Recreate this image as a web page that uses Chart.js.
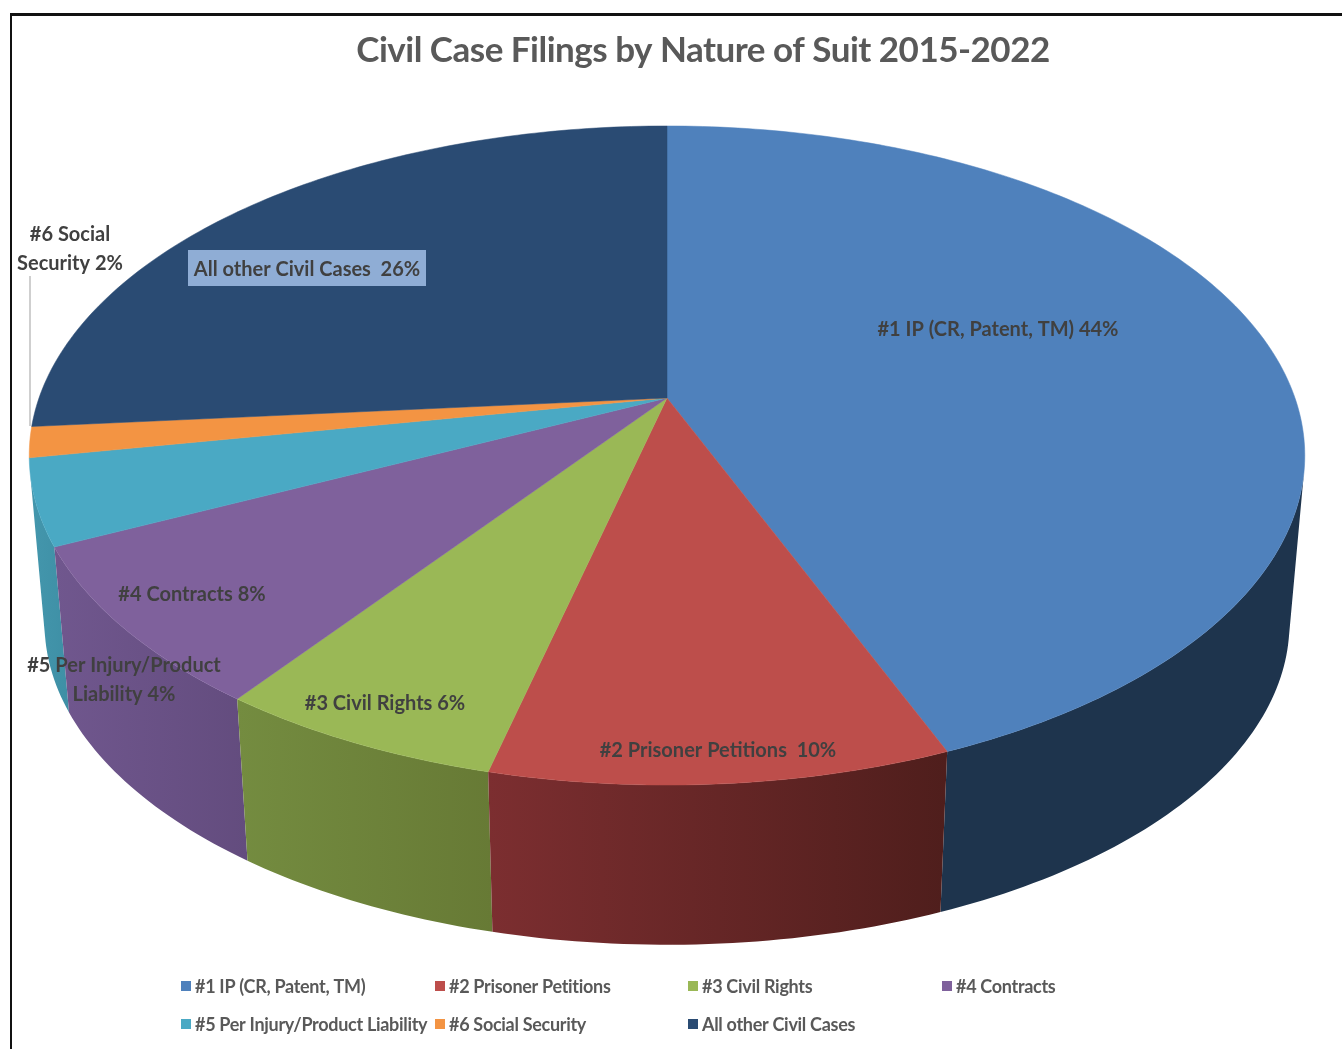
<!DOCTYPE html>
<html>
<head>
<meta charset="utf-8">
<title>Civil Case Filings by Nature of Suit 2015-2022</title>
<script src="https://cdn.jsdelivr.net/npm/chart.js@4"></script>
<style>
    html, body {margin: 0; padding: 0; background: #fff;}
    canvas {display: block;}
</style>
</head>
<body>
<canvas id="pieChart" width="1342" height="1049"></canvas>
<script>
const chartTitle = 'Civil Case Filings by Nature of Suit 2015-2022';
const categories = ['#1 IP (CR, Patent, TM)', '#2 Prisoner Petitions', '#3 Civil Rights', '#4 Contracts',
    '#5 Per Injury/Product Liability', '#6 Social Security', 'All other Civil Cases'];
// share of filings in percent
const shares = [43.9, 9.9, 6.2, 7.9, 4.2, 1.5, 26.4];
const sliceLabels = ['#1 IP (CR, Patent, TM) 44%', '#2 Prisoner Petitions  10%', '#3 Civil Rights 6%', '#4 Contracts 8%',
    '#5 Per Injury/Product\nLiability 4%', '#6 Social\nSecurity 2%', 'All other Civil Cases  26%'];

const topColors = ['#4f81bc', '#bd4e4b', '#9ab856', '#7f619c', '#4aa9c4', '#f39443', '#2a4b73'];
// wall colours, left to right. Excel paints the blue slice's wall in navy
const wallLeft = ['#1e344d', '#7c2e30', '#748c40', '#70578e', '#4497ad', '#c4762f', '#1e344d'];
const wallRight = ['#1e344d', '#4f1e1c', '#677a35', '#634c7e', '#3e8fa5', '#c4762f', '#1e344d'];

// where the slice labels sit on the page (centre of the text block)
const labelX = [998, 718, 385, 192, 124, 70, 307];
const labelY = [330, 751, 704, 595, 680, 249, 270];

const legendX = [181, 435, 688, 942, 181, 435, 688];
const legendY = [986, 986, 986, 986, 1024, 1024, 1024];

// perspective of the tilted disc: front is nearer than back so the apex is above the ellipse centre
const view = {cx: 667, topY: 398, bottomY: 567, a: 628, b: 319.5, k: -0.1745, bottomScale: 0.976};

function project(angle, isBottom) {
    const u = Math.cos(angle);
    const v = Math.sin(angle);
    const w = 1 + view.k * v;
    const s = isBottom ? view.bottomScale : 1;
    return {
        x: view.cx + s * view.a * u / w,
        y: (isBottom ? view.bottomY : view.topY) + s * view.b * v / w
    };
}

function arcPoints(start, end, isBottom) {
    const steps = Math.max(4, Math.ceil((end - start) * 60));
    const points = [];
    for (let i = 0; i <= steps; i++) {
        points.push(project(start + (end - start) * i / steps, isBottom));
    }
    return points;
}

function addPolygon(ctx, points) {
    points.forEach((p, i) => i === 0 ? ctx.moveTo(p.x, p.y) : ctx.lineTo(p.x, p.y));
    ctx.closePath();
}

function signedArea(points) {
    let sum = 0;
    points.forEach((p, i) => {
        const q = points[(i + 1) % points.length];
        sum += p.x * q.y - q.x * p.y;
    });
    return sum;
}

// Chart.js works out the slice angles, this plugin paints them in perspective
const perspectivePie = {
    id: 'perspectivePie',
    beforeDraw(chart) {
        const ctx = chart.ctx;
        ctx.save();
        ctx.fillStyle = '#fff';
        ctx.fillRect(0, 0, chart.width, chart.height);
        ctx.fillStyle = '#111';
        ctx.fillRect(10, 13, chart.width - 10, 3);
        ctx.fillRect(10, 13, 2, chart.height - 13);
        ctx.restore();
        // the title plugin has no spacing option, it picks this up from the context
        ctx.letterSpacing = '-0.5px';
    },
    beforeDatasetsDraw(chart) {
        const ctx = chart.ctx;
        const arcs = chart.getDatasetMeta(0).data;
        ctx.save();

        // walls, back to front. Only the quads facing the viewer go in, all in one path so no seams show
        const order = [6, 5, 4, 3, 0, 2, 1];
        order.forEach(i => {
            const arc = arcs[i];
            const upper = arcPoints(arc.startAngle, arc.endAngle, false);
            const lower = arcPoints(arc.startAngle, arc.endAngle, true);
            const xs = upper.concat(lower).map(p => p.x);
            const gradient = ctx.createLinearGradient(Math.min(...xs), 0, Math.max(...xs), 0);
            gradient.addColorStop(0, wallLeft[i]);
            gradient.addColorStop(1, wallRight[i]);
            ctx.beginPath();
            for (let n = 0; n < upper.length - 1; n++) {
                const quad = [upper[n], upper[n + 1], lower[n + 1], lower[n]];
                if (signedArea(quad) < 0) {
                    addPolygon(ctx, quad);
                }
            }
            ctx.fillStyle = gradient;
            ctx.fill();
        });

        // top face
        arcs.forEach(arc => {
            const outline = [{x: view.cx, y: view.topY}].concat(arcPoints(arc.startAngle, arc.endAngle, false));
            ctx.beginPath();
            addPolygon(ctx, outline);
            ctx.fillStyle = arc.options.backgroundColor;
            ctx.strokeStyle = arc.options.backgroundColor;
            ctx.lineWidth = 0.5;
            ctx.fill();
            ctx.stroke();
        });
        ctx.restore();
        return false;
    },
    afterDraw(chart) {
        const ctx = chart.ctx;
        ctx.save();

        // leader line of the #6 label
        ctx.strokeStyle = '#bfbfbf';
        ctx.lineWidth = 1.5;
        ctx.beginPath();
        ctx.moveTo(30, 276);
        ctx.lineTo(30, 426);
        ctx.stroke();

        // box behind the "All other" label
        ctx.fillStyle = '#8fadd5';
        ctx.fillRect(188, 250, 238, 36);

        ctx.font = 'bold 20px Lato';
        ctx.fillStyle = '#404040';
        ctx.textAlign = 'center';
        ctx.textBaseline = 'middle';
        ctx.letterSpacing = '0px';
        sliceLabels.forEach((text, i) => {
            const lines = text.split('\n');
            lines.forEach((line, n) => {
                ctx.fillText(line, labelX[i], labelY[i] + (n - (lines.length - 1) / 2) * 29);
            });
        });

        // legend sits in fixed columns, the built in one can't do that
        ctx.font = 'bold 18px Lato';
        ctx.textAlign = 'left';
        ctx.letterSpacing = '-0.3px';
        categories.forEach((name, i) => {
            ctx.fillStyle = topColors[i];
            ctx.fillRect(legendX[i], legendY[i] - 5, 10, 10);
            ctx.fillStyle = '#595959';
            ctx.fillText(name, legendX[i] + 14, legendY[i] + 1);
        });
        ctx.restore();
    }
};

new Chart(document.getElementById('pieChart'), {
    type: 'pie',
    data: {
        labels: categories,
        datasets: [{
            data: shares,
            backgroundColor: topColors
        }]
    },
    options: {
        responsive: false,
        animation: false,
        layout: {padding: {left: 64, top: 30}},
        plugins: {
            legend: {display: false},
            tooltip: {enabled: false},
            title: {
                display: true,
                text: chartTitle,
                color: '#595959',
                font: {family: 'Lato', size: 35, weight: 'bold'},
                padding: 0
            }
        }
    },
    plugins: [perspectivePie]
});
</script>
</body>
</html>
